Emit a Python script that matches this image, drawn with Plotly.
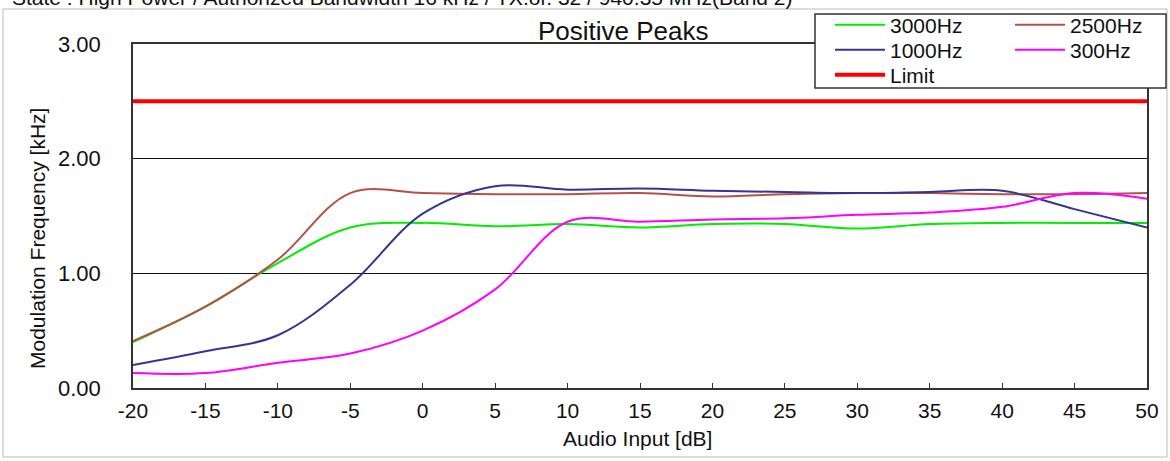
import plotly.graph_objects as go

# audio input levels (dB)
audio_db = [-20, -15, -10, -5, 0, 5, 10, 15, 20, 25, 30, 35, 40, 45, 50]
x_tick_text = ["-20", "-15", "-10", "-5", "0", "5", "10", "15", "20", "25",
               "30", "35", "40", "45", "50"]

# positive peak deviation (kHz) per modulating tone
f3000 = [0.40, 0.71, 1.09, 1.40, 1.44, 1.41, 1.43, 1.40, 1.43, 1.43, 1.39, 1.43, 1.44, 1.44, 1.44]
f2500 = [0.41, 0.71, 1.12, 1.70, 1.70, 1.69, 1.69, 1.70, 1.67, 1.69, 1.70, 1.70, 1.69, 1.69, 1.70]
f1000 = [0.20, 0.32, 0.46, 0.90, 1.52, 1.76, 1.73, 1.74, 1.72, 1.71, 1.70, 1.71, 1.72, 1.56, 1.40]
f300 = [0.13, 0.13, 0.22, 0.30, 0.50, 0.86, 1.45, 1.45, 1.47, 1.48, 1.51, 1.53, 1.58, 1.70, 1.65]
limit_khz = 2.5

y_ticks = [0, 1, 2, 3]
y_tick_text = ["0.00", "1.00", "2.00", "3.00"]

W, H = 1170, 461
L, R, T, B = 133, 1147, 44, 388
FONT = "Liberation Sans, Arial, sans-serif"


def px(x):
    return (x - L) / (R - L)


def py(y):
    return (B - y) / (B - T)


fig = go.Figure()

series = [
    ("3000Hz", f3000, "#00ee00", 2, "legend"),
    ("2500Hz", f2500, "#b8504a", 2, "legend2"),
    ("1000Hz", f1000, "#353592", 2, "legend3"),
    ("300Hz", f300, "#ff00ff", 2, "legend4"),
]
for name, vals, col, w, lg in series:
    fig.add_trace(go.Scatter(
        x=audio_db, y=vals, name=name, mode="lines",
        line=dict(color=col, width=w, shape="spline"),
        legend=lg))

fig.add_trace(go.Scatter(
    x=[audio_db[0], audio_db[-1]], y=[limit_khz, limit_khz], name="Limit",
    mode="lines", line=dict(color="#ff0000", width=4), legend="legend5"))

# one small legend per entry so the rows sit where the original has them
leg_pos = {
    "legend": (830, 25), "legend2": (1010, 25),
    "legend3": (830, 50), "legend4": (1010, 50),
    "legend5": (830, 75),
}
leg_layout = {}
for key, (lx, ly) in leg_pos.items():
    leg_layout[key] = dict(
        x=px(lx), y=py(ly), xanchor="left", yanchor="middle",
        bgcolor="rgba(0,0,0,0)", borderwidth=0, itemwidth=50,
        font=dict(family=FONT, size=21, color="#111111"))

fig.update_layout(
    width=W, height=H,
    margin=dict(l=L, r=W - R, t=T, b=H - B, autoexpand=False),
    paper_bgcolor="white", plot_bgcolor="white",
    font=dict(family=FONT, size=21, color="#111111"),
    showlegend=True,
    **leg_layout,
    xaxis=dict(
        range=[-20, 50], tickmode="array", tickvals=audio_db,
        ticktext=x_tick_text, automargin=False,
        ticks="inside", ticklen=5, tickcolor="#333333",
        showgrid=False, zeroline=False,
        showline=True, linecolor="#333333", linewidth=1.5, mirror=True,
        tickfont=dict(size=21), ticklabelstandoff=3),
    yaxis=dict(
        range=[0, 3], tickmode="array", tickvals=y_ticks, ticktext=y_tick_text,
        automargin=False,
        ticks="", showgrid=True, gridcolor="#111111", gridwidth=1,
        zeroline=False, showline=True, linecolor="#333333", linewidth=1.5,
        mirror=True, tickfont=dict(size=22), ticklabelstandoff=26),
    shapes=[
        # outer frame
        dict(type="rect", xref="paper", yref="paper",
             x0=px(3), x1=px(1167), y0=py(457), y1=py(9),
             line=dict(color="#bbbbbb", width=1), layer="below"),
        # legend box
        dict(type="rect", xref="paper", yref="paper",
             x0=px(815), x1=px(1166), y0=py(88), y1=py(14),
             fillcolor="white", line=dict(color="#333333", width=1.5),
             layer="above"),
    ],
    annotations=[
        dict(text="State : High Power / Authorized Bandwidth 16 kHz / TX.or. 32 / 940.35 MHz(Band 2)",
             xref="paper", yref="paper", x=px(10), y=py(-2), xanchor="left",
             yanchor="middle", showarrow=False, font=dict(size=21)),
        dict(text="Positive Peaks", xref="paper", yref="paper",
             x=px(623), y=py(31), xanchor="center", yanchor="middle",
             showarrow=False, font=dict(size=26)),
        dict(text="Audio Input [dB]", xref="paper", yref="paper",
             x=px(637), y=py(438), xanchor="center", yanchor="middle",
             showarrow=False, font=dict(size=21)),
        dict(text="Modulation Frequency [kHz]", xref="paper", yref="paper",
             x=px(37), y=py(239), xanchor="center", yanchor="middle",
             textangle=-90, showarrow=False, font=dict(size=21)),
    ],
)

fig.write_html("out.html", config={"displayModeBar": False},
               post_script="document.body.style.margin = '0';")
